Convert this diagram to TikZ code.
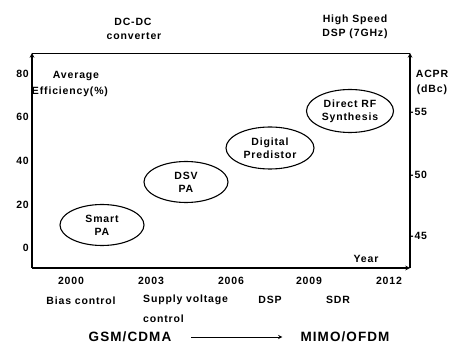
\documentclass[tikz,border=0pt]{standalone}
\usepackage{fontspec}
\setmainfont{Liberation Sans}[LetterSpace=8]
\usetikzlibrary{shapes.geometric}

\begin{document}
\begin{tikzpicture}[x=1pt, y=-1pt,
    every node/.style={font=\bfseries\fontsize{10.5}{13}\selectfont, inner sep=0pt},
    tech/.style={ellipse, draw, line width=1.1pt, align=center, minimum width=84pt, minimum height=41pt},
    big/.style={font=\bfseries\fontsize{13.5}{15}\selectfont}]
    \useasboundingbox (0,0) rectangle (455,344);

    % frame
    \coordinate (O) at (32,268);
    \coordinate (TL) at (32,53);
    \coordinate (TR) at (410,53);
    \coordinate (BR) at (410,268);
    \draw[line width=1.1pt, -stealth] (O) -- (TL);
    \draw[line width=0.9pt] (TL) -- (TR);
    \draw[line width=1.1pt, -stealth] (BR) -- (TR);
    \draw[line width=1.1pt, -stealth] (O) -- (BR);

    % left scale
    \foreach \v/\y in {80/74, 60/117, 40/161, 20/205, 0/248}
        \node (eff\v) [anchor=east] at (29,\y) {\v};

    % right scale
    \foreach \v/\y in {55/112, 50/175, 45/236}
        \node (acpr\v) [anchor=west] at (410,\y) {-\v};

    \node (Avg) at (76,76) {Average};
    \node (Eff) at (70,92) {Efficiency(\%)};
    \node (Acpr) at (432,74) {ACPR};
    \node (Dbc) at (432,90) {(dBc)};
    \node (Year) at (366,259) {Year};

    % top
    \node (Dcdc) at (133,22) {DC-DC};
    \node (Conv) at (134,36) {converter};
    \node (Hs) at (355,20) {High Speed};
    \node (Dsp7) at (355,34) {DSP (7GHz)};

    % techniques
    \node (Smart) [tech] at (102,225) {Smart\\PA};
    \node (Dsv) [tech] at (186,182) {DSV\\PA};
    \node (Dpd) [tech, minimum width=88pt, minimum height=42pt] at (270,148) {Digital\\Predistor};
    \node (Drf) [tech, minimum width=87pt, minimum height=43pt] at (350,111) {Direct RF\\Synthesis};

    % years
    \foreach \yr/\x in {2000/71, 2003/151, 2006/231, 2009/309, 2012/389}
        \node (y\yr) at (\x,281) {\yr};

    \node (Bias) at (81,301) {Bias control};
    \node (Supply) [anchor=west] at (143,300) {Supply voltage};
    \node (Ctrl) [anchor=west] at (143,319) {control};
    \node (Dsp) at (270,300) {DSP};
    \node (Sdr) at (338,300) {SDR};

    % standards
    \node (Gsm) [big] at (130,337) {GSM/CDMA};
    \node (Mimo) [big] at (345,337) {MIMO/OFDM};
    \draw[line width=0.9pt, -stealth] (Gsm.east) ++(20,0) coordinate (a1) -- ([xshift=-18pt]Mimo.west);
\end{tikzpicture}
\end{document}
